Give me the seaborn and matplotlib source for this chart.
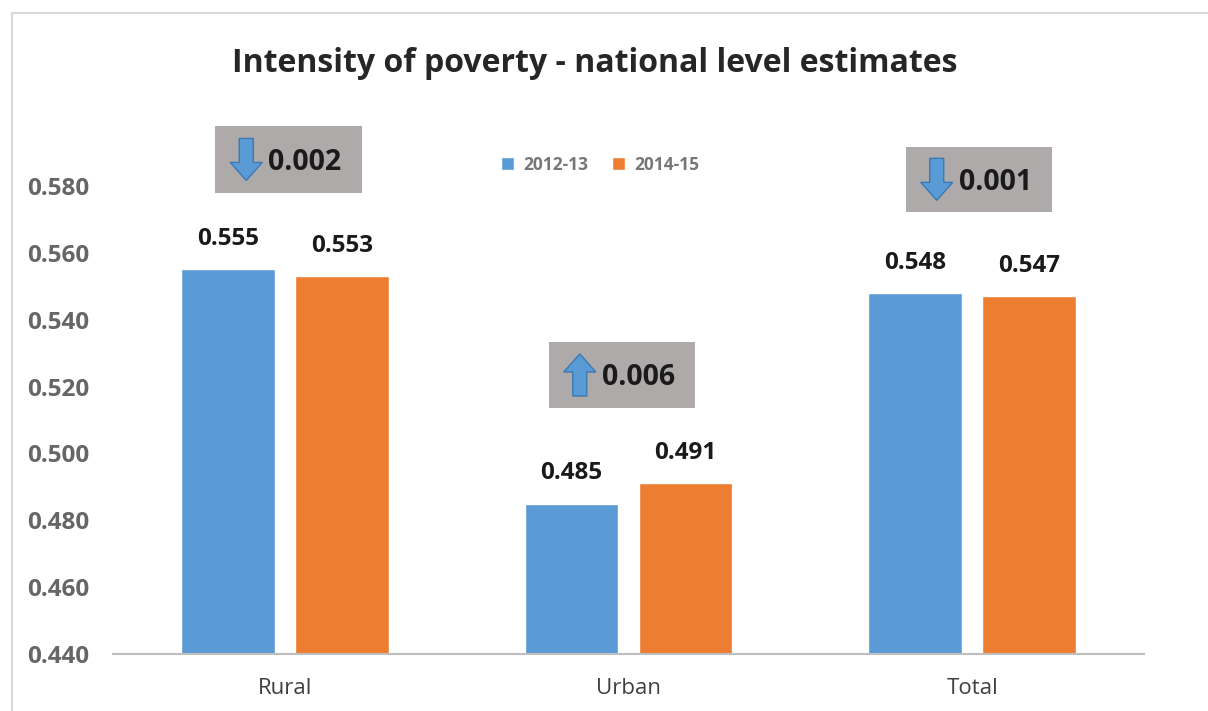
import matplotlib
matplotlib.use("Agg")
import matplotlib.pyplot as plt
import matplotlib.patches as mpatches
import matplotlib.transforms as mtransforms
import seaborn as sns
import pandas as pd

# ---- data ----
categories = ["Rural", "Urban", "Total"]
periods = ["2012-13", "2014-15"]
values_2012 = [0.555, 0.485, 0.548]
values_2014 = [0.553, 0.491, 0.547]
y_ticks = [0.440, 0.460, 0.480, 0.500, 0.520, 0.540, 0.560, 0.580]
title = "Intensity of poverty - national level estimates"

df = pd.DataFrame({
    "area": categories * 2,
    "period": [periods[0]] * 3 + [periods[1]] * 3,
    "value": values_2012 + values_2014,
})

sns.set_theme(style="white")
plt.rcParams["font.family"] = ["Open Sans", "DejaVu Sans"]

W, H, DPI = 1208, 711, 100
fig = plt.figure(figsize=(W / DPI, H / DPI), dpi=DPI)
ax = fig.add_axes([113 / W, 1 - 654 / H, (1144 - 113) / W, (654 - 119) / H])

palette = {"2012-13": "#5B9BD5", "2014-15": "#ED7D31"}
sns.barplot(data=df, x="area", y="value", hue="period", order=categories,
            hue_order=periods, palette=palette, width=0.664, gap=0.18,
            saturation=1, ax=ax, legend=True)

ax.set_ylim(0.44, 0.60)
ax.set_xlim(-0.5, 2.5)
ax.set_yticks(y_ticks)
ax.set_yticklabels([f"{v:.3f}" for v in y_ticks], fontsize=17.5,
                   fontweight="bold", color="#666666")
ax.tick_params(axis="y", length=0, pad=17)
ax.tick_params(axis="x", length=0, pad=17, labelsize=16, labelcolor="#404040")
ax.set_xlabel("")
ax.set_ylabel("")
for s in ["left", "right", "top"]:
    ax.spines[s].set_visible(False)
ax.spines["bottom"].set_color("#BFBFBF")
ax.spines["bottom"].set_linewidth(1.5)
ax.grid(False)

# value labels
for cont in ax.containers:
    ax.bar_label(cont, labels=[f"{v:.3f}" for v in cont.datavalues],
                 padding=13, fontsize=17.5, fontweight="bold", color="#1a1a1a")

# legend
leg = ax.legend(loc="upper center", bbox_to_anchor=((600 - 113) / (1144 - 113), 1 - (140 - 119) / (654 - 119)),
                ncol=2, frameon=False, fontsize=12.5, handlelength=0.75,
                handleheight=0.75, columnspacing=1.4, handletextpad=0.5)
for t in leg.get_texts():
    t.set_color("#777777")
    t.set_fontweight("bold")

# title
fig.text(595 / W, 1 - 64 / H, title, ha="center", va="center",
         fontsize=23, fontweight="bold", color="#262626")

# change annotation boxes (layout positions in data coords)
boxes = [  # (x center, y bottom, y top)
    (0.0106, 0.5779, 0.5979),
    (0.981, 0.5136, 0.5333),
    (2.0197, 0.5722, 0.5917),
]
box_w = 0.426
for i, (xc, yb, yt) in enumerate(boxes):
    diff = values_2014[i] - values_2012[i]
    rect = mpatches.Rectangle((xc - box_w / 2, yb), box_w, yt - yb,
                              facecolor="#AEAAAA", edgecolor="none",
                              clip_on=False, zorder=3)
    ax.add_patch(rect)
    ymid = (yb + yt) / 2
    trans = fig.dpi_scale_trans + mtransforms.ScaledTranslation(
        xc - box_w / 2, ymid, ax.transData)
    cx = 0.31
    hw, tw, L, hl = 0.16, 0.07, 0.21, 0.18
    if diff < 0:
        verts = [(cx - tw, L), (cx + tw, L), (cx + tw, -L + hl), (cx + hw, -L + hl),
                 (cx, -L), (cx - hw, -L + hl), (cx - tw, -L + hl)]
    else:
        verts = [(cx - tw, -L), (cx + tw, -L), (cx + tw, L - hl), (cx + hw, L - hl),
                 (cx, L), (cx - hw, L - hl), (cx - tw, L - hl)]
    arrow = mpatches.Polygon(verts, closed=True, transform=trans,
                             facecolor="#5B9BD5", edgecolor="#3A78B5",
                             linewidth=1, clip_on=False, zorder=4)
    ax.add_patch(arrow)
    ax.text(0.53, -0.03, f"{abs(diff):.3f}", transform=trans, ha="left",
            va="center", fontsize=20.5, fontweight="bold", color="#1a1a1a",
            zorder=5)

# chart-area border (partially visible)
fig.add_artist(plt.Line2D([12 / W, 12 / W], [0, 1 - 13 / H], color="#D9D9D9", lw=1.5))
fig.add_artist(plt.Line2D([12 / W, 1], [1 - 13 / H, 1 - 13 / H], color="#D9D9D9", lw=1.5))

fig.savefig("out.png", dpi=DPI)
